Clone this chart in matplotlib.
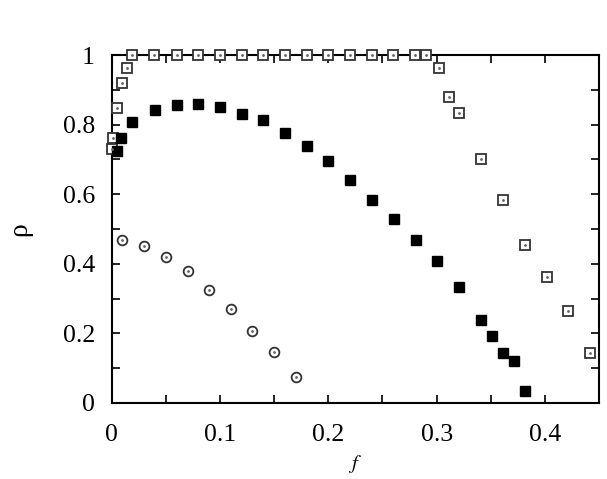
import numpy as np
import matplotlib.pyplot as plt
from matplotlib.ticker import MultipleLocator

plt.rcParams['font.family'] = ['Liberation Serif', 'DejaVu Serif']
plt.rcParams['mathtext.fontset'] = 'stix'

# open squares
f_open = [0.0003, 0.0015, 0.0046, 0.0095, 0.0144, 0.019, 0.039, 0.06, 0.08, 0.1,
          0.12, 0.14, 0.16, 0.18, 0.2, 0.22, 0.24, 0.26, 0.28, 0.29,
          0.302, 0.3115, 0.321, 0.341, 0.361, 0.3815, 0.4015, 0.421, 0.4416]
rho_open = [0.730, 0.762, 0.849, 0.919, 0.962, 1.0, 1.0, 1.0, 1.0, 1.0,
            1.0, 1.0, 1.0, 1.0, 1.0, 1.0, 1.0, 1.0, 1.0, 1.0,
            0.963, 0.880, 0.834, 0.700, 0.583, 0.453, 0.363, 0.263, 0.142]

# filled squares
f_fill = [0.0046, 0.009, 0.019, 0.04, 0.06, 0.08, 0.1, 0.12, 0.14, 0.16,
          0.18, 0.2, 0.22, 0.24, 0.261, 0.281, 0.30, 0.321, 0.341, 0.351,
          0.361, 0.3716, 0.3818]
rho_fill = [0.724, 0.761, 0.807, 0.842, 0.856, 0.858, 0.851, 0.832, 0.813, 0.775,
            0.738, 0.696, 0.641, 0.583, 0.529, 0.4675, 0.407, 0.332, 0.238, 0.1925,
            0.1437, 0.1207, 0.0345]

# circles
f_circ = [0.0098, 0.03, 0.05, 0.07, 0.09, 0.11, 0.13, 0.15, 0.17]
rho_circ = [0.468, 0.451, 0.420, 0.380, 0.325, 0.269, 0.208, 0.146, 0.0756]

fig = plt.figure(figsize=(6.07, 4.79), dpi=100)
ax = fig.add_axes([0.184, 0.159, 0.803, 0.726])

ax.plot(f_open, rho_open, 's', ms=7, mfc='white', mec='#333333', mew=1.3, clip_on=False, zorder=3)
ax.plot(f_open, rho_open, '.', ms=2, color='#666666', clip_on=False, zorder=4)
ax.plot(f_fill, rho_fill, 's', ms=6.5, mfc='black', mec='black', clip_on=False, zorder=3)
ax.plot(f_circ, rho_circ, 'o', ms=7, mfc='white', mec='#333333', mew=1.3, zorder=3)
ax.plot(f_circ, rho_circ, '.', ms=2, color='#666666', zorder=4)

ax.set_xlim(0, 0.45)
ax.set_ylim(0, 1)
ax.xaxis.set_major_locator(MultipleLocator(0.1))
ax.xaxis.set_minor_locator(MultipleLocator(0.05))
ax.yaxis.set_major_locator(MultipleLocator(0.2))
ax.yaxis.set_minor_locator(MultipleLocator(0.1))
ax.xaxis.set_major_formatter(plt.FuncFormatter(lambda v, p: '%g' % round(v, 2)))
ax.yaxis.set_major_formatter(plt.FuncFormatter(lambda v, p: '%g' % round(v, 2)))

ax.tick_params(which='both', direction='in', top=True, right=True, width=1.2,
               labelsize=18.5, length=6)
ax.tick_params(axis='x', which='both', pad=15)
ax.tick_params(axis='y', which='both', pad=12)
for s in ax.spines.values():
    s.set_linewidth(1.5)

ax.set_xlabel('$f$', fontsize=15, labelpad=5)
ax.set_ylabel('ρ', fontsize=20, labelpad=22)

fig.savefig('out.png', dpi=100)
